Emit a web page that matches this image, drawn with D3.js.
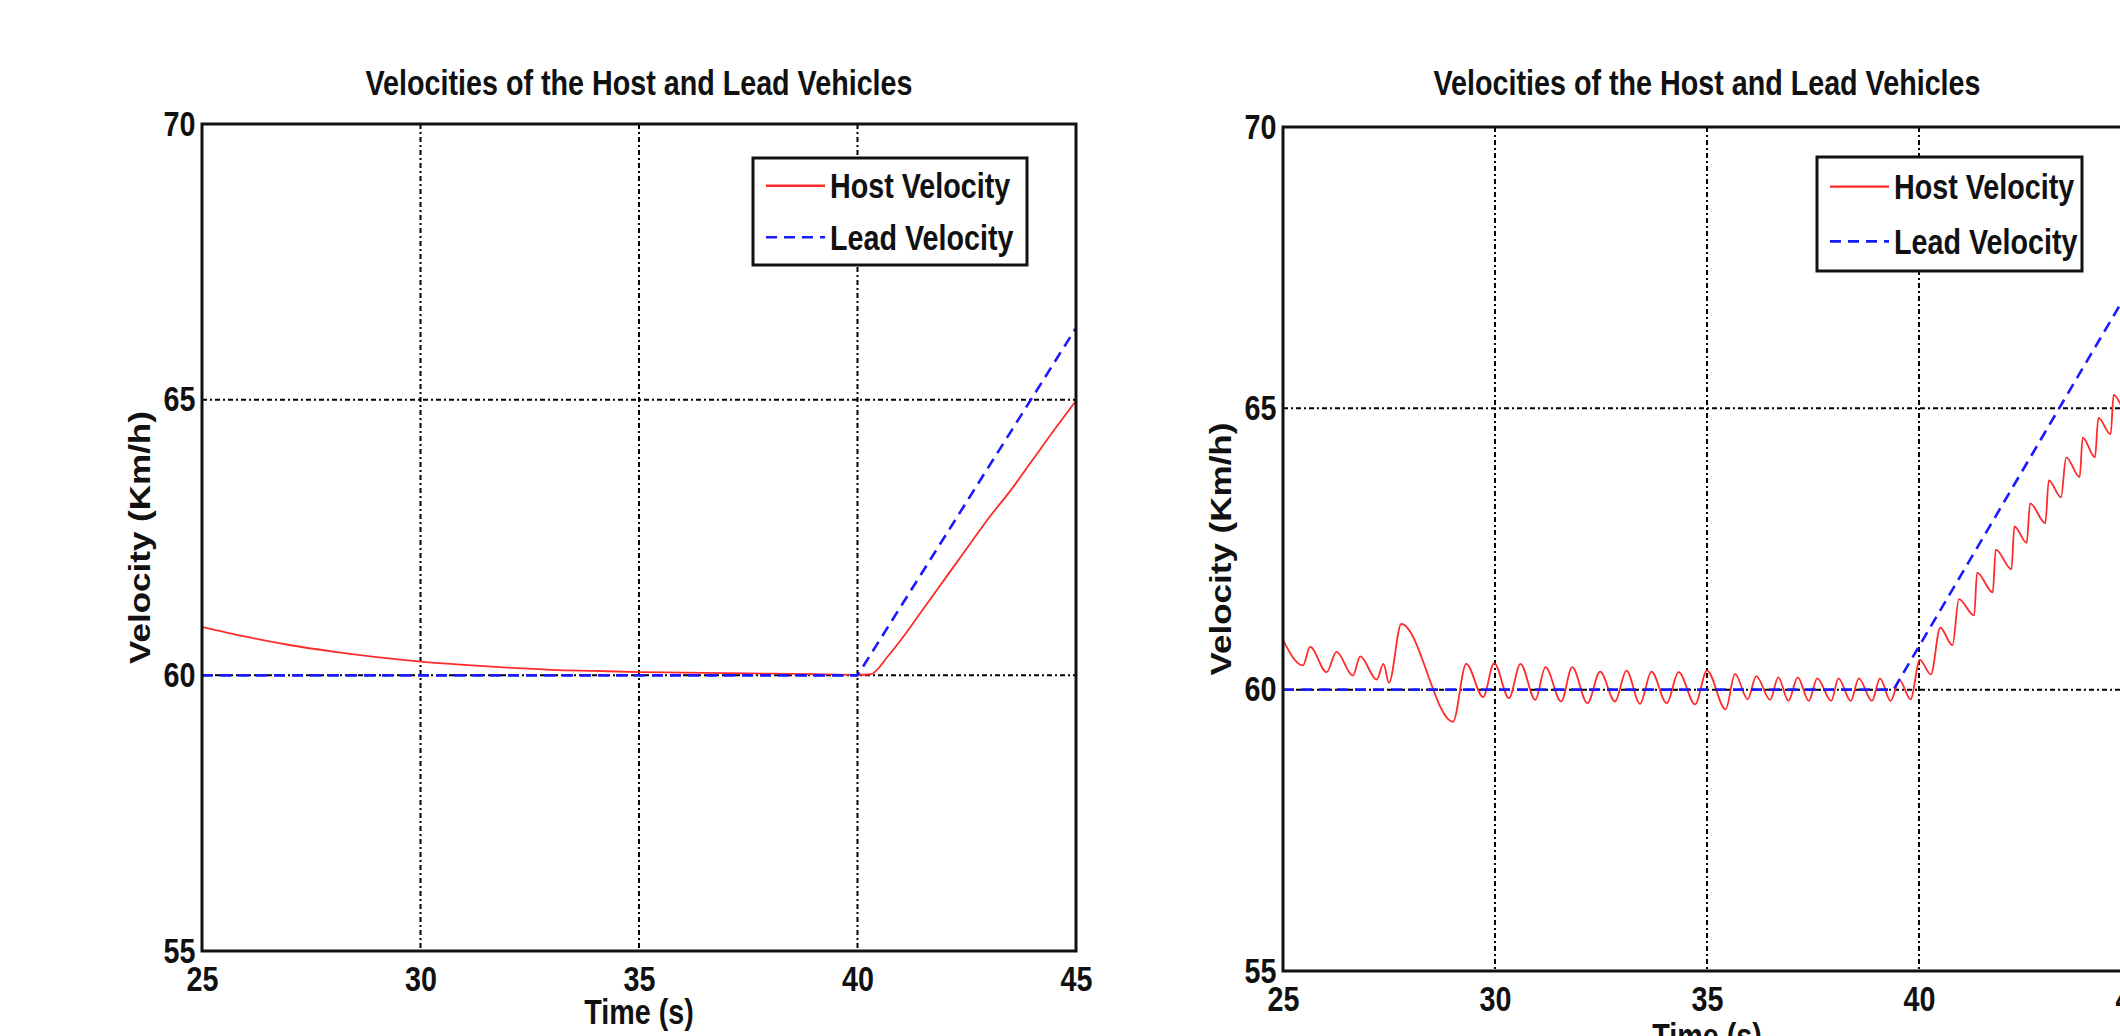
<!DOCTYPE html>
<html>
<head>
<meta charset="utf-8">
<script src="https://cdn.jsdelivr.net/npm/d3@7"></script>
<style>
  html, body { margin: 0; padding: 0; background: #fff; overflow: hidden; }
  svg text { font-family: "Liberation Sans", Arial, sans-serif; font-weight: bold; fill: #111; }
</style>
</head>
<body>
<svg id="chart" width="2120" height="1036"></svg>
<script>
// axis ticks shared by both panels
const xTicks = [25, 30, 35, 40, 45];
const yTicks = [55, 60, 65, 70];
const titleText = "Velocities of the Host and Lead Vehicles";
const seriesNames = ["Host Velocity", "Lead Velocity"];

// left panel: smooth controller
const leftTime = [25, 26, 27, 28, 29, 30, 31, 32, 33, 34, 35, 36, 37, 38, 39, 40, 40.3, 40.7, 41, 41.5, 42, 42.5, 43, 43.5, 44, 44.5, 45];
const leftHost = [60.88, 60.7, 60.55, 60.43, 60.33, 60.25, 60.19, 60.14, 60.1, 60.08, 60.06, 60.05, 60.04, 60.03, 60.02, 60.01, 60.02, 60.35, 60.65, 61.2, 61.75, 62.3, 62.85, 63.35, 63.9, 64.45, 64.98];
const leftLeadTime = [25, 40, 45];
const leftLead = [60, 60, 66.3];

// right panel: oscillating controller
const rightTime = [25, 25.47, 25.64, 26.03, 26.26, 26.65, 26.82, 27.21, 27.37, 27.5, 27.79, 29.01, 29.32, 29.72, 29.98,
  30.33, 30.6, 30.95, 31.19, 31.56, 31.82, 32.18, 32.48, 32.83, 33.1, 33.42, 33.69, 34.05, 34.33, 34.72, 35,
  35.44, 35.66, 35.96, 36.16, 36.49, 36.68, 36.92, 37.14, 37.4, 37.6, 37.93, 38.1, 38.39, 38.58, 38.89, 39.08,
  39.33, 39.54, 39.8, 40.02, 40.28, 40.5, 40.79, 40.94, 41.3, 41.37, 41.74, 41.81, 42.18, 42.25, 42.54, 42.62,
  42.98, 43.06, 43.35, 43.47, 43.79, 43.86, 44.15, 44.23, 44.52, 44.59, 44.85, 44.92, 45];
const rightHost = [60.88, 60.43, 60.76, 60.31, 60.67, 60.25, 60.59, 60.18, 60.46, 60.12, 61.17, 59.43, 60.46, 59.87, 60.47,
  59.85, 60.46, 59.82, 60.4, 59.79, 60.4, 59.76, 60.32, 59.79, 60.34, 59.75, 60.32, 59.76, 60.31, 59.74, 60.34,
  59.65, 60.28, 59.83, 60.24, 59.82, 60.22, 59.8, 60.22, 59.8, 60.2, 59.8, 60.2, 59.8, 60.2, 59.8, 60.2,
  59.8, 60.17, 59.83, 60.53, 60.27, 61.1, 60.79, 61.61, 61.32, 62.08, 61.73, 62.49, 62.14, 62.9, 62.61, 63.31,
  62.96, 63.72, 63.42, 64.13, 63.78, 64.48, 64.13, 64.83, 64.54, 65.24, 65.0, 65.65, 65.5];
const rightLeadTime = [25, 39.4, 45];
const rightLead = [60, 60, 67.17];

const svg = d3.select("#chart");
const fontSize = 35;
const squeeze = 0.82; // narrow bold look of the original figure

function drawPanel(p) {
    const g = svg.append("g").attr("transform", `translate(${p.left},${p.top})`);
    const x = d3.scaleLinear().domain([25, 45]).range([0, p.width]);
    const y = d3.scaleLinear().domain([55, 70]).range([p.height, 0]);

    // grid (matlab dotted style)
    g.append("g").selectAll("line")
        .data(xTicks.slice(1, -1))
        .enter().append("line")
        .attr("x1", d => x(d)).attr("x2", d => x(d))
        .attr("y1", 0).attr("y2", p.height)
        .attr("stroke", "#000").attr("stroke-width", 2)
        .attr("stroke-dasharray", "5,3,2,3");
    g.append("g").selectAll("line")
        .data(yTicks.slice(1, -1))
        .enter().append("line")
        .attr("x1", 0).attr("x2", p.width)
        .attr("y1", d => y(d)).attr("y2", d => y(d))
        .attr("stroke", "#000").attr("stroke-width", 2)
        .attr("stroke-dasharray", "5,3,2,3");

    const clipId = "clip-" + p.id;
    g.append("clipPath").attr("id", clipId)
        .append("rect").attr("width", p.width).attr("height", p.height);

    const hostLine = d3.line().curve(d3.curveMonotoneX).x(d => x(d[0])).y(d => y(d[1]));
    const leadLine = d3.line().x(d => x(d[0])).y(d => y(d[1]));

    g.append("path")
        .datum(d3.zip(p.hostTime, p.host))
        .attr("clip-path", `url(#${clipId})`)
        .attr("fill", "none")
        .attr("stroke", "#ff2a2a")
        .attr("stroke-width", 1.8)
        .attr("d", hostLine);
    g.append("path")
        .datum(d3.zip(p.leadTime, p.lead))
        .attr("clip-path", `url(#${clipId})`)
        .attr("fill", "none")
        .attr("stroke", "#1a1aff")
        .attr("stroke-width", 2.6)
        .attr("stroke-dasharray", "11,7")
        .attr("d", leadLine);

    // box
    g.append("rect")
        .attr("width", p.width).attr("height", p.height)
        .attr("fill", "none").attr("stroke", "#111").attr("stroke-width", 3);

    const xAxis = g.append("g")
        .attr("transform", `translate(0,${p.height})`)
        .call(d3.axisBottom(x).tickValues(xTicks).tickSize(0).tickPadding(15).tickFormat(d3.format("d")));
    const yAxis = g.append("g")
        .call(d3.axisLeft(y).tickValues(yTicks).tickSize(0).tickPadding(8).tickFormat(d3.format("d")));
    [xAxis, yAxis].forEach(a => {
        a.select(".domain").remove();
        a.attr("font-family", null).attr("font-size", null);
        a.selectAll("text")
            .attr("font-size", fontSize).attr("fill", "#111")
            .attr("transform", `scale(${squeeze},1)`);
    });

    g.append("text")
        .attr("transform", `translate(${p.width / 2},${95 - p.top}) scale(${squeeze},1)`)
        .attr("text-anchor", "middle")
        .attr("font-size", fontSize)
        .text(titleText);
    g.append("text")
        .attr("transform", `translate(${x(35)},${p.height + p.xlabelGap}) scale(${squeeze},1)`)
        .attr("text-anchor", "middle")
        .attr("font-size", fontSize)
        .text("Time (s)");
    g.append("text")
        .attr("transform", `translate(-52,${p.height / 2}) rotate(-90) scale(1,${squeeze})`)
        .attr("text-anchor", "middle")
        .attr("font-size", fontSize)
        .text("Velocity (Km/h)");

    // legend
    const lg = g.append("g").attr("transform", `translate(${p.width - 49 - p.legendW},${p.legendTop})`);
    lg.append("rect")
        .attr("width", p.legendW).attr("height", p.legendH)
        .attr("fill", "#fff").attr("stroke", "#111").attr("stroke-width", 3);
    seriesNames.forEach((name, i) => {
        const ly = p.legendH * (0.26 + i * 0.48);
        lg.append("line")
            .attr("x1", 13).attr("x2", 72)
            .attr("y1", ly).attr("y2", ly)
            .attr("stroke", i === 0 ? "#ff2a2a" : "#1a1aff")
            .attr("stroke-width", i === 0 ? 2.4 : 2.6)
            .attr("stroke-dasharray", i === 0 ? null : "11,7");
        lg.append("text")
            .attr("transform", `translate(77,${ly + 12.5}) scale(${squeeze},1)`)
            .attr("font-size", fontSize)
            .text(name);
    });
}

drawPanel({
    id: "left", left: 202, top: 124, width: 874, height: 827, xlabelGap: 73,
    hostTime: leftTime, host: leftHost, leadTime: leftLeadTime, lead: leftLead,
    legendW: 274, legendH: 107, legendTop: 34
});
drawPanel({
    id: "right", left: 1283, top: 127, width: 848, height: 844, xlabelGap: 77,
    hostTime: rightTime, host: rightHost, leadTime: rightLeadTime, lead: rightLead,
    legendW: 265, legendH: 114, legendTop: 30
});
</script>
</body>
</html>
